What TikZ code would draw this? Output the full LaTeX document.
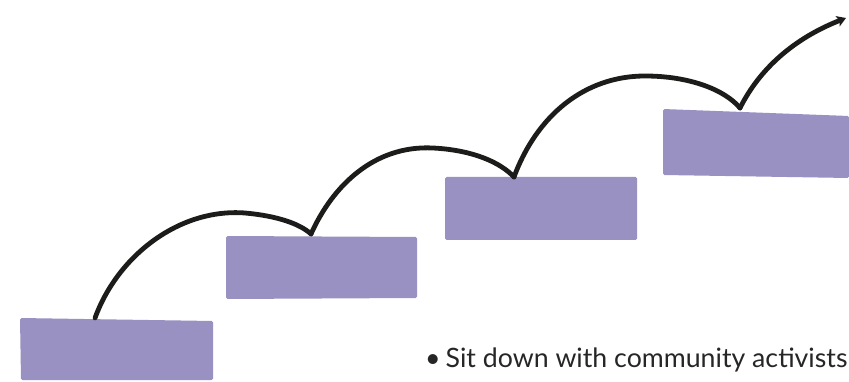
\documentclass[tikz,border=0pt]{standalone}
\usepackage{fontspec}
\setmainfont{Lato}
\usetikzlibrary{arrows.meta,calc}
\definecolor{stepfill}{HTML}{9891C1}
\definecolor{inkline}{HTML}{1C1C1A}
\definecolor{txt}{HTML}{262626}
\tikzset{
  stepbox/.style={fill=stepfill,draw=none,inner sep=0pt,rounded corners=1.5pt},
  hop/.style={draw=inkline,line width=4.8pt,line cap=round,line join=round},
}
\begin{document}
\begin{tikzpicture}[x=1pt,y=-1pt]
\useasboundingbox (0,0) rectangle (849,382);
% steps
\path[stepbox] (20,318) -- (213,321) -- (213,380) -- (21,380) -- cycle;
\node[inner sep=0pt,minimum size=0pt] (b1) at (116,349) {};
\path[stepbox] (226,236) -- (417,237) -- (417,298) -- (226,299) -- cycle;
\node[inner sep=0pt,minimum size=0pt] (b2) at (321,268) {};
\path[stepbox] (445,177) -- (637,177) -- (637,240) -- (445,240) -- cycle;
\node[inner sep=0pt,minimum size=0pt] (b3) at (541,209) {};
\path[stepbox] (663,109) -- (849,116) -- (849,178) -- (663,175) -- cycle;
\node[inner sep=0pt,minimum size=0pt] (b4) at (756,143) {};
% hop points
\coordinate (p1) at (95,318);
\coordinate (p2) at (311,234);
\coordinate (p3) at (514,177);
\coordinate (p4) at (740,108);
\coordinate (tip) at (846,18);
% arcs
\draw[hop] (p1) .. controls (118,255) and (180,208) .. (245,213)
  .. controls (278,216) and (300,224) .. (p2);
\draw[hop] (p2) .. controls (333,185) and (375,145) .. (433,148)
  .. controls (472,150) and (500,162) .. (p3);
\draw[hop] (p3) .. controls (537,115) and (585,76) .. (645,76)
  .. controls (690,76) and (725,90) .. (p4);
\draw[hop,-{Stealth[length=9pt,width=11pt,inset=2pt]}] (p4) .. controls (760,68) and (795,38) .. (tip);
% text
\node[anchor=base west,inner sep=0pt,text=txt,font=\fontsize{26.7}{30}\selectfont] (t1) at (425,367) {•\hspace{5pt}Sit down with community activists};
\end{tikzpicture}
\end{document}
